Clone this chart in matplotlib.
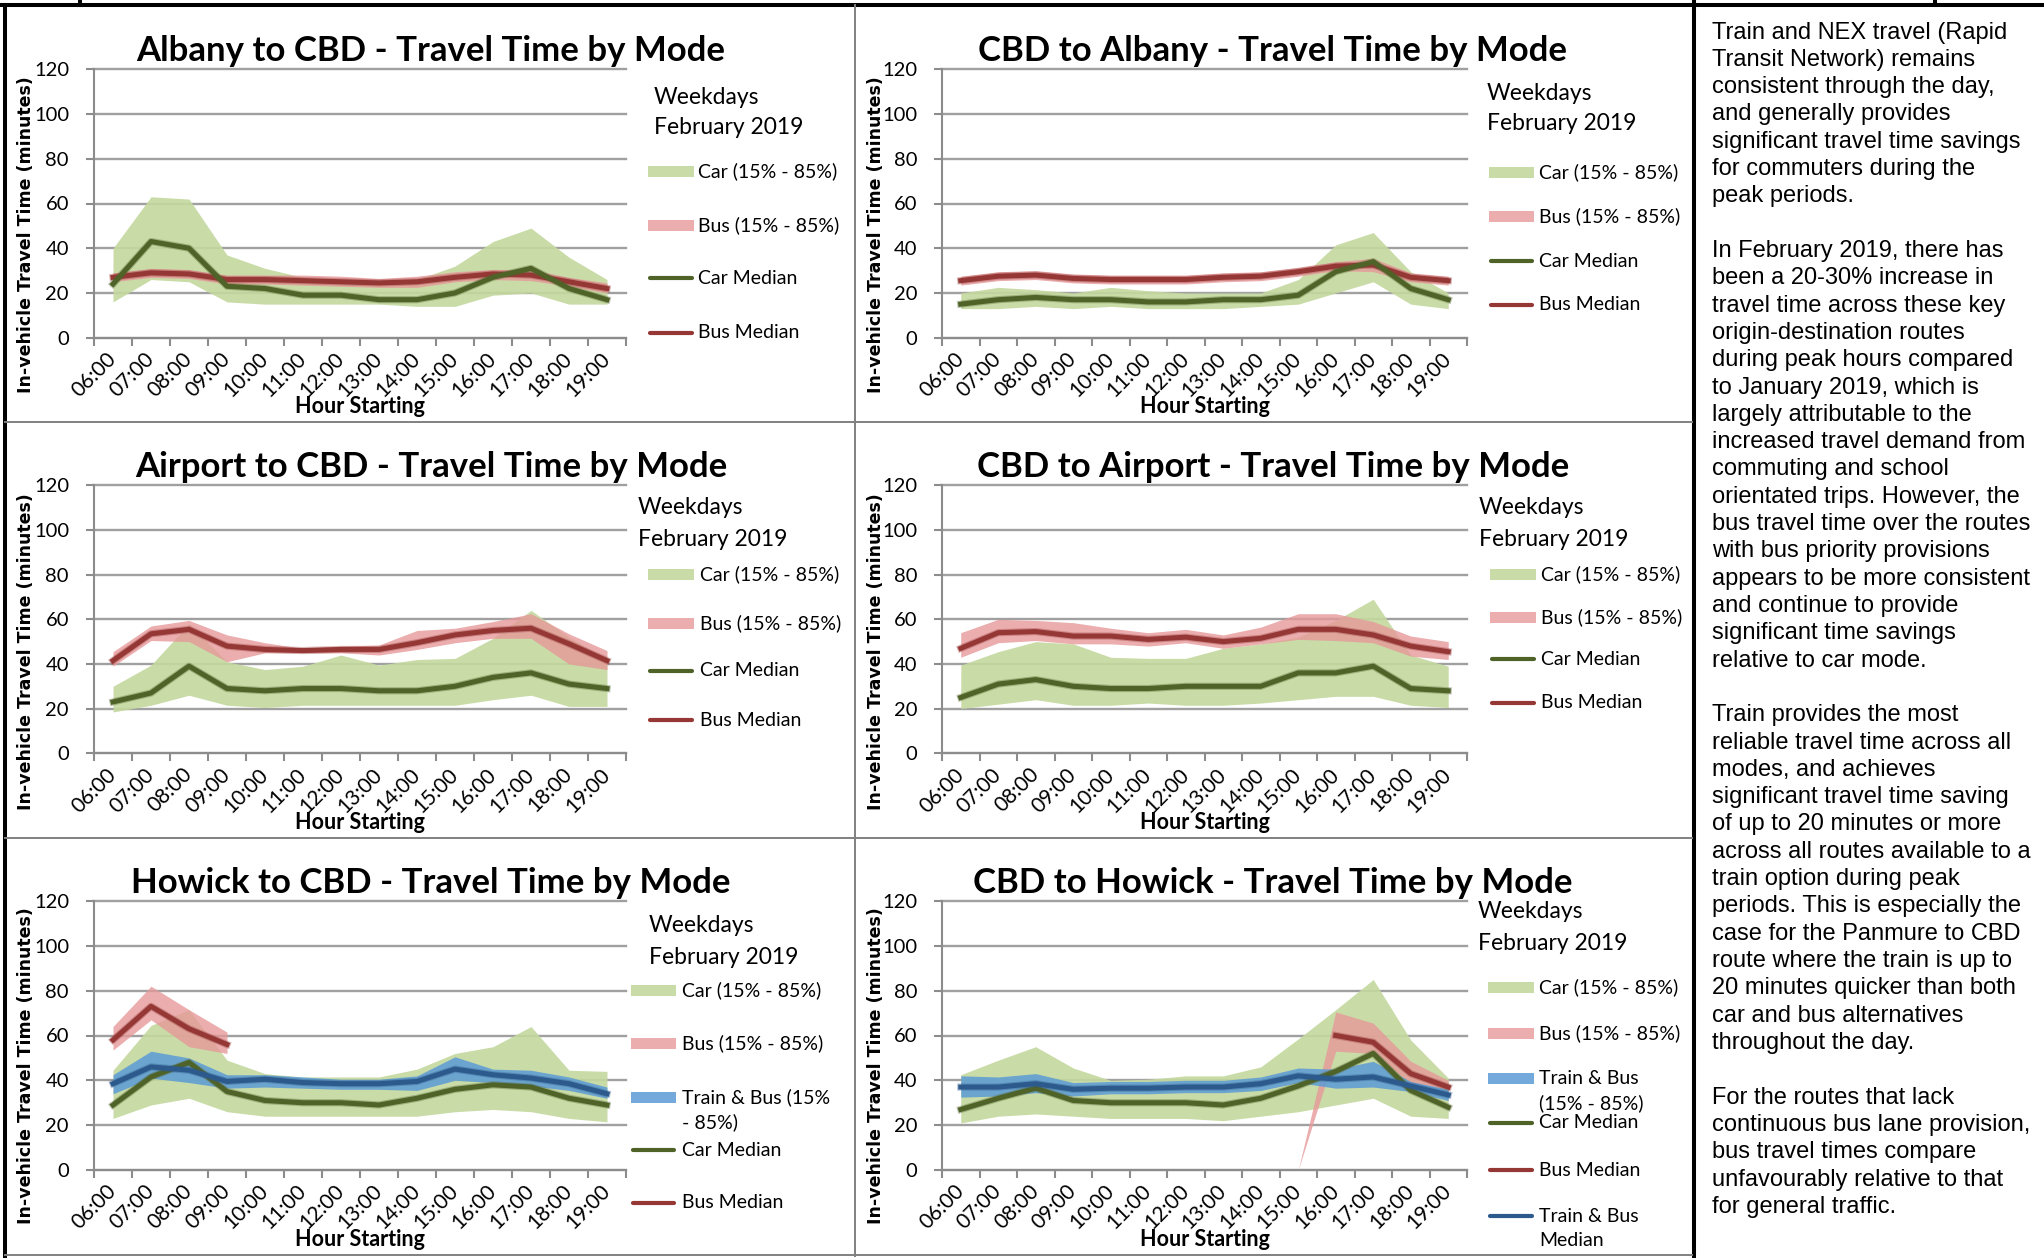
import numpy as np
import matplotlib.pyplot as plt
import matplotlib.patheffects as pe
from matplotlib.lines import Line2D
from matplotlib.patches import Rectangle

nan = np.nan
hours = ['06:00', '07:00', '08:00', '09:00', '10:00', '11:00', '12:00',
         '13:00', '14:00', '15:00', '16:00', '17:00', '18:00', '19:00']

# Albany to CBD
alb_cbd_car_med = [24, 43, 40, 23, 22, 19, 19, 17, 17, 20, 27, 31, 22, 17]
alb_cbd_car_lo = [16, 26, 25, 16, 15, 15, 15, 15, 14, 14, 19, 20, 15, 15]
alb_cbd_car_hi = [40, 63, 62, 37, 31, 27, 25, 24, 26, 32, 43, 49, 36, 26]
alb_cbd_bus_med = [27, 29, 28.5, 26, 26, 25.5, 25, 24.5, 25, 27, 28.5, 28, 25, 22]
alb_cbd_bus_lo = [25, 27, 26.5, 24, 24, 23.5, 23, 22.5, 22.5, 25, 26, 25.5, 23, 20]
alb_cbd_bus_hi = [29, 31, 30.5, 28, 28, 28, 27.5, 26.5, 27.5, 29.5, 30.5, 30.5, 27, 24.5]

# CBD to Albany
cbd_alb_car_med = [15, 17, 18, 17, 17, 16, 16, 17, 17, 19, 29.5, 34, 22, 17]
cbd_alb_car_lo = [13, 13, 14, 13, 14, 13, 13, 13, 14, 15, 20, 25, 15, 13]
cbd_alb_car_hi = [20, 22.5, 21.5, 20, 22.5, 21, 20, 20, 20, 26, 41.5, 47, 29.5, 20]
cbd_alb_bus_med = [25.5, 27.5, 28, 26.5, 26, 26, 26, 27, 27.5, 29.5, 32, 32.5, 27, 25.5]
cbd_alb_bus_lo = [23.5, 25.5, 26, 24.5, 24, 24, 24, 25, 25.5, 27.5, 30, 29.5, 25, 23.5]
cbd_alb_bus_hi = [27.5, 29.5, 30, 28.5, 28, 28, 28, 29, 29.5, 31.5, 34, 35.5, 29, 27.5]

# Airport to CBD
air_cbd_car_med = [23, 27, 39, 29, 28, 29, 29, 28, 28, 30, 34, 36, 31, 29]
air_cbd_car_lo = [18.5, 21.5, 26, 21.5, 20.5, 21.5, 21.5, 21.5, 21.5, 21.5, 24, 26, 21, 21]
air_cbd_car_hi = [30, 39.5, 58, 41, 37.5, 39, 44, 39.5, 42, 42.5, 51.5, 64, 52, 42]
air_cbd_bus_med = [41.5, 53.5, 55.5, 48, 46.5, 46, 46.5, 46.5, 49.5, 53, 55, 56, 49, 41.5]
air_cbd_bus_lo = [39, 50.5, 50, 41, 45, 45, 45, 44, 46.5, 49.5, 51.5, 51.5, 40, 37.5]
air_cbd_bus_hi = [45.5, 57, 59.5, 53, 49.5, 47, 48, 48.5, 55, 56, 59, 62.5, 53.5, 46]

# CBD to Airport
cbd_air_car_med = [25, 31, 33, 30, 29, 29, 30, 30, 30, 36, 36, 39, 29, 28]
cbd_air_car_lo = [20, 22, 24, 21.5, 21.5, 22.5, 21.5, 21.5, 22.5, 24, 25.5, 25.5, 21.5, 20.5]
cbd_air_car_hi = [39.5, 45.5, 50, 49, 43, 42.5, 42.5, 47, 49, 52, 59.5, 69, 44, 39]
cbd_air_bus_med = [47, 54, 54.5, 52.5, 52.5, 51, 52, 50, 51.5, 55.5, 55.5, 53, 48, 45.5]
cbd_air_bus_lo = [43, 49.5, 50.5, 49, 49, 48, 49.5, 47, 49, 51, 50.5, 49.5, 43.5, 42]
cbd_air_bus_hi = [54, 60, 59.5, 58.5, 56, 54, 55.5, 53, 56.5, 62.5, 62.5, 59, 52.5, 50]

# Howick to CBD
how_cbd_car_med = [29, 41.5, 48, 35, 31, 30, 30, 29, 32, 36, 38, 37, 32, 29]
how_cbd_car_lo = [23, 29, 32, 26, 24, 24, 24, 24, 24, 26, 27, 26, 23, 21.5]
how_cbd_car_hi = [44.5, 64.5, 71.5, 49, 43, 41.5, 41.5, 41.5, 45, 52, 55, 64, 44.5, 44]
how_cbd_bus_med = [58, 73, 63, 56] + [nan] * 10
how_cbd_bus_lo = [53.5, 67, 55, 52] + [nan] * 10
how_cbd_bus_hi = [64, 82, 71.5, 61.5] + [nan] * 10
how_cbd_trn_med = [38.5, 46, 44.5, 39.5, 40.5, 39, 38.5, 38.5, 39.5, 45, 42.5, 41, 38.5, 34]
how_cbd_trn_lo = [34, 41, 39, 36.5, 37, 36.5, 36, 36, 35.5, 40, 39, 37.5, 35.5, 32]
how_cbd_trn_hi = [42.5, 53, 50, 42.5, 42.5, 41.5, 40.5, 40.5, 42, 50.5, 45, 44.5, 41.5, 37]

# CBD to Howick
cbd_how_car_med = [27, 32, 36.5, 31, 30, 30, 30, 29, 32, 37.5, 44, 52, 35.5, 28]
cbd_how_car_lo = [21, 24, 25, 24, 23, 23, 23, 22, 24, 26, 29, 32, 24, 23]
cbd_how_car_hi = [42.5, 49, 55, 45.5, 40, 40.5, 42, 42, 46, 58.5, 71.5, 85, 58, 41]
cbd_how_bus_med = [nan] * 10 + [60, 57, 43, 37]
cbd_how_bus_lo = [nan] * 9 + [0, 53, 52, 38.5, 36]
cbd_how_bus_hi = [nan] * 9 + [0, 70.5, 65.5, 48.5, 40]
cbd_how_trn_med = [37, 37, 38.5, 36, 36.5, 36.5, 37, 37, 38.5, 42, 40.5, 41.5, 37.5, 33.5]
cbd_how_trn_lo = [32.5, 33, 34.5, 33, 34, 34, 34.5, 34.5, 35.5, 39, 36.5, 37, 35, 31]
cbd_how_trn_hi = [42, 41.5, 43, 39, 39.5, 39.5, 40, 40, 41.5, 45.5, 45, 48.5, 39.5, 36]

notes = [
    "Train and NEX travel (Rapid", "Transit Network) remains",
    "consistent through the day,", "and generally provides",
    "significant travel time savings", "for commuters during the",
    "peak periods.", "",
    "In February 2019, there has", "been a 20-30% increase in",
    "travel time across these key", "origin-destination routes",
    "during peak hours compared", "to January 2019, which is",
    "largely attributable to the", "increased travel demand from",
    "commuting and school", "orientated trips. However, the",
    "bus travel time over the routes", "with bus priority provisions",
    "appears to be more consistent", "and continue to provide",
    "significant time savings", "relative to car mode.", "",
    "Train provides the most", "reliable travel time across all",
    "modes, and achieves", "significant travel time saving",
    "of up to 20 minutes or more", "across all routes available to a",
    "train option during peak", "periods. This is especially the",
    "case for the Panmure to CBD", "route where the train is up to",
    "20 minutes quicker than both", "car and bus alternatives",
    "throughout the day.", "",
    "For the routes that lack", "continuous bus lane provision,",
    "bus travel times compare", "unfavourably relative to that",
    "for general traffic.",
]

CHART_FONT = ['Lato', 'DejaVu Sans']
CAR_BAND, BUS_BAND, TRN_BAND = '#c4d89e', '#e6999a', '#5b9bd5'
CAR_LINE, BUS_LINE, TRN_LINE = '#4f6228', '#953735', '#2c5a8c'
GRID = '#a0a0a0'
AXIS = '#8c8c8c'

W, H = 2044, 1258
fig = plt.figure(figsize=(W / 100, H / 100), dpi=100)


def fx(x):
    return x / W


def fy(y):
    return 1 - y / H


# panel = (title, car, bus, train or None)
panels = [
    ('Albany to CBD - Travel Time by Mode',
     (alb_cbd_car_lo, alb_cbd_car_med, alb_cbd_car_hi),
     (alb_cbd_bus_lo, alb_cbd_bus_med, alb_cbd_bus_hi), None),
    ('CBD to Albany - Travel Time by Mode',
     (cbd_alb_car_lo, cbd_alb_car_med, cbd_alb_car_hi),
     (cbd_alb_bus_lo, cbd_alb_bus_med, cbd_alb_bus_hi), None),
    ('Airport to CBD - Travel Time by Mode',
     (air_cbd_car_lo, air_cbd_car_med, air_cbd_car_hi),
     (air_cbd_bus_lo, air_cbd_bus_med, air_cbd_bus_hi), None),
    ('CBD to Airport - Travel Time by Mode',
     (cbd_air_car_lo, cbd_air_car_med, cbd_air_car_hi),
     (cbd_air_bus_lo, cbd_air_bus_med, cbd_air_bus_hi), None),
    ('Howick to CBD - Travel Time by Mode',
     (how_cbd_car_lo, how_cbd_car_med, how_cbd_car_hi),
     (how_cbd_bus_lo, how_cbd_bus_med, how_cbd_bus_hi),
     (how_cbd_trn_lo, how_cbd_trn_med, how_cbd_trn_hi)),
    ('CBD to Howick - Travel Time by Mode',
     (cbd_how_car_lo, cbd_how_car_med, cbd_how_car_hi),
     (cbd_how_bus_lo, cbd_how_bus_med, cbd_how_bus_hi),
     (cbd_how_trn_lo, cbd_how_trn_med, cbd_how_trn_hi)),
]

# legend entries per panel: (kind, colour, label)
base_keys = [('band', CAR_BAND, 'Car (15% - 85%)'), ('band', BUS_BAND, 'Bus (15% - 85%)')]
med_keys = [('line', CAR_LINE, 'Car Median'), ('line', BUS_LINE, 'Bus Median')]
legend_keys = [base_keys + med_keys] * 4 + [
    base_keys + [('band', TRN_BAND, 'Train & Bus (15%\n- 85%)')] + med_keys,
    base_keys + [('band', TRN_BAND, 'Train & Bus\n(15% - 85%)')] + med_keys
    + [('line', TRN_LINE, 'Train & Bus\nMedian')],
]

# layout in pixels
cols = [(94, 626), (942, 1467)]
rows = [(69.3, 337.7), (485.3, 753.3), (901, 1170)]
title_x = [431, 1273]
title_base = [61, 477, 893]
ylabel_x = [26, 876]
ylabel_y = [235, 652, 1066]
legend_pos = [
    dict(head=(654, 97, 128), key=(648, 694, 698), ys=[171, 225, 278, 333]),
    dict(head=(1487, 93, 123), key=(1489, 1534, 1539), ys=[172, 216, 261, 305]),
    dict(head=(638, 508, 540), key=(648, 694, 700), ys=[574, 623, 671, 720]),
    dict(head=(1479, 508, 540), key=(1490, 1536, 1541), ys=[574, 617, 659, 703]),
    dict(head=(649, 925, 957), key=(631, 676, 682), ys=[990, 1043, 1097, 1150, 1203]),
    dict(head=(1478, 912, 943), key=(1488, 1534, 1539),
         ys=[987, 1033, 1078, 1123, 1170, 1216]),
]

x = np.arange(len(hours))
glow = lambda c: [pe.Stroke(linewidth=5.2, foreground=c, alpha=0.35), pe.Normal()]

for n, (title, car, bus, trn) in enumerate(panels):
    col, row = n % 2, n // 2
    l, r = cols[col]
    t, b = rows[row]
    ax = fig.add_axes([fx(l), fy(b), (r - l) / W, (b - t) / H])

    ax.fill_between(x, car[0], car[2], color=CAR_BAND, alpha=0.9, lw=0)
    ax.fill_between(x, bus[0], bus[2], color=BUS_BAND, alpha=0.8, lw=0)
    if trn is not None:
        ax.fill_between(x, trn[0], trn[2], color=TRN_BAND, alpha=0.85, lw=0)
    ax.plot(x, bus[1], color=BUS_LINE, lw=3.6, path_effects=glow(BUS_LINE))
    ax.plot(x, car[1], color=CAR_LINE, lw=3.6, path_effects=glow(CAR_LINE))
    if trn is not None:
        ax.plot(x, trn[1], color=TRN_LINE, lw=3.6, path_effects=glow(TRN_LINE))

    ax.set_xlim(-0.5, len(hours) - 0.5)
    ax.set_ylim(0, 120)
    ax.set_yticks(range(0, 121, 20))
    ax.yaxis.grid(True, color=GRID, lw=1.7)
    for gl in ax.get_ygridlines():
        gl.set_clip_on(False)
    ax.set_axisbelow(True)
    ax.set_xticks(np.arange(-0.5, len(hours)), labels=[])
    ax.set_xticks(x, labels=hours, minor=True)
    ax.tick_params(axis='x', which='major', length=6, width=1.5, color=AXIS)
    ax.tick_params(axis='x', which='minor', length=0, pad=13)
    ax.tick_params(axis='y', length=6, width=1.5, color=AXIS, pad=12)
    for lab in ax.get_yticklabels():
        lab.set_fontfamily(CHART_FONT)
        lab.set_fontsize(14.5)
    for lab in ax.get_xticklabels(minor=True):
        lab.set_fontfamily(CHART_FONT)
        lab.set_fontsize(15)
        lab.set_rotation(45)
        lab.set_ha('right')
        lab.set_va('center')
        lab.set_rotation_mode('anchor')
    for side in ('top', 'right'):
        ax.spines[side].set_visible(False)
    for side in ('left', 'bottom'):
        ax.spines[side].set_color(AXIS)
        ax.spines[side].set_linewidth(1.5)

    fig.text(fx(title_x[col]), fy(title_base[row]), title, ha='center', va='baseline',
             fontsize=25, fontweight='bold', family=CHART_FONT)
    fig.text(fx((l + r) / 2), fy(b + 69), 'Hour Starting', ha='center', va='center',
             fontsize=15.5, fontweight='bold', family=CHART_FONT)
    fig.text(fx(ylabel_x[col]), fy(ylabel_y[row]), 'In-vehicle Travel Time (minutes)',
             rotation=90, ha='center', va='center', fontsize=12.5, fontweight='bold',
             family='DejaVu Sans')

    # legend, Excel style: header text then keys stacked down the right side
    lp = legend_pos[n]
    hx, hy1, hy2 = lp['head']
    fig.text(fx(hx), fy(hy1), 'Weekdays', va='center', fontsize=16.5, family=CHART_FONT)
    fig.text(fx(hx), fy(hy2), 'February 2019', va='center', fontsize=16.5, family=CHART_FONT)
    k0, k1, tx = lp['key']
    alphas = {CAR_BAND: 0.9, BUS_BAND: 0.8, TRN_BAND: 0.85}
    for (kind, color, label), y in zip(legend_keys[n], lp['ys']):
        if kind == 'band':
            fig.add_artist(Rectangle((fx(k0), fy(y + 5.5)), (k1 - k0) / W, 11 / H,
                                     color=color, alpha=alphas[color], lw=0))
        else:
            fig.add_artist(Line2D([fx(k0 + 2), fx(k1 - 2)], [fy(y), fy(y)], color=color,
                                  lw=3, solid_capstyle='round'))
        for i, part in enumerate(label.split('\n')):
            fig.text(fx(tx), fy(y + i * 25), part, va='center', fontsize=14,
                     family=CHART_FONT)

# frame lines of the page table
frame = [
    ((0, W), (5, 5), 'black', 2.9),
    ((5, 5), (5, H), 'black', 2.9),
    ((80, 80), (0, 5), 'black', 2.9),
    ((1935, 1935), (0, 5), 'black', 2.9),
    ((1694, 1694), (0, H), 'black', 2.9),
    ((855, 855), (5, 1256), '#808080', 1.4),
    ((5, 1692), (422, 422), '#808080', 1.4),
    ((5, 1692), (838, 838), '#808080', 1.4),
    ((5, 1692), (1255, 1255), '#808080', 1.4),
]
for xs, ys, c, lw in frame:
    fig.add_artist(Line2D([fx(v) for v in xs], [fy(v) for v in ys], color=c, lw=lw))

for i, line in enumerate(notes):
    fig.text(fx(1712), fy(32.5 + i * 27.31), line, va='center', fontsize=17,
             family=['Liberation Sans', 'DejaVu Sans'])

fig.savefig('out.png', dpi=100)
